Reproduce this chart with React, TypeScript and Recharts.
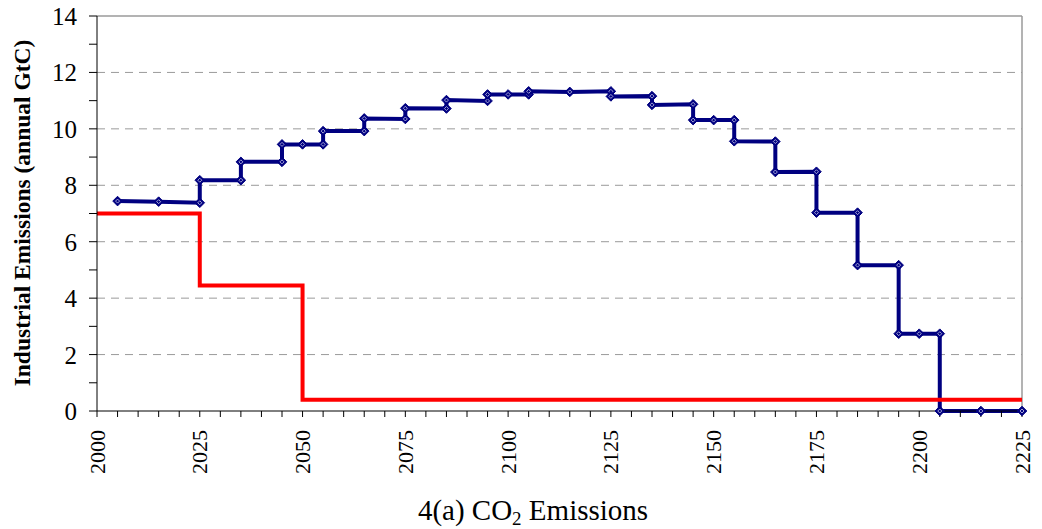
import React from "react";
import { LineChart, Line, XAxis, YAxis, ReferenceLine } from "recharts";

// industrial emissions, annual GtC — pairs at the same year draw the vertical steps
const blueYears = [
  2005, 2015, 2025, 2025, 2035, 2035, 2045, 2045, 2050, 2055, 2055, 2065, 2065,
  2075, 2075, 2085, 2085, 2095, 2095, 2100, 2105, 2105, 2115, 2125, 2125, 2135,
  2135, 2145, 2145, 2150, 2155, 2155, 2165, 2165, 2175, 2175, 2185, 2185, 2195,
  2195, 2200, 2205, 2205, 2215, 2225,
];
const blueValues = [
  7.44, 7.42, 7.38, 8.18, 8.18, 8.83, 8.83, 9.45, 9.45, 9.45, 9.92, 9.92, 10.37,
  10.35, 10.73, 10.72, 11.02, 10.99, 11.22, 11.22, 11.22, 11.33, 11.31, 11.33,
  11.15, 11.16, 10.85, 10.87, 10.31, 10.31, 10.31, 9.56, 9.55, 8.47, 8.48, 7.03,
  7.03, 5.17, 5.17, 2.74, 2.74, 2.74, 0, 0, 0,
];

const redYears = [2000, 2025, 2050, 2225];
const redValues = [7.0, 4.45, 0.4, 0.4];

const xTicks = [
  2000, 2005, 2010, 2015, 2020, 2025, 2030, 2035, 2040, 2045, 2050, 2055, 2060,
  2065, 2070, 2075, 2080, 2085, 2090, 2095, 2100, 2105, 2110, 2115, 2120, 2125,
  2130, 2135, 2140, 2145, 2150, 2155, 2160, 2165, 2170, 2175, 2180, 2185, 2190,
  2195, 2200, 2205, 2210, 2215, 2220, 2225,
];
const yTicks = [0, 1, 2, 3, 4, 5, 6, 7, 8, 9, 10, 11, 12, 13, 14];
const gridValues = [2, 4, 6, 8, 10, 12];

const blueData = blueYears.map((year, i) => ({ year, value: blueValues[i] }));
const redData = redYears.map((year, i) => ({ year, value: redValues[i] }));

const FONT = '"Liberation Serif", "Times New Roman", serif';

function Diamond(props: any) {
  const { cx, cy, index } = props;
  if (cx == null || cy == null) return null;
  const r = 4.8;
  const s = 2;
  return (
    <g key={`d-${index}`}>
      <path
        d={`M${cx},${cy - r}L${cx + r},${cy}L${cx},${cy + r}L${cx - r},${cy}Z`}
        fill="#000080"
        stroke="#000080"
        strokeWidth={1}
      />
      <path
        d={`M${cx},${cy - s}L${cx + s},${cy}L${cx},${cy + s}L${cx - s},${cy}Z`}
        fill="none"
        stroke="#c8c8ec"
        strokeWidth={0.8}
      />
    </g>
  );
}

function YearTick(props: any) {
  const { x, y, payload } = props;
  if (payload.value % 25 !== 0) return null;
  return (
    <text
      x={x}
      y={y + 11}
      transform={`rotate(-90 ${x} ${y + 11})`}
      textAnchor="end"
      dominantBaseline="central"
      fontFamily={FONT}
      fontSize={22}
      fill="#000"
    >
      {payload.value}
    </text>
  );
}

function ValueTick(props: any) {
  const { x, y, payload } = props;
  if (payload.value % 2 !== 0) return null;
  return (
    <text x={x - 10} y={y} dy="0.36em" textAnchor="end" fontFamily={FONT} fontSize={25} fill="#000">
      {payload.value}
    </text>
  );
}

export default function App() {
  return (
    <div style={{ position: "absolute", left: 0, top: 0, width: 1042, height: 529, background: "#fff" }}>
      <LineChart
        width={1042}
        height={529}
        data={blueData}
        margin={{ top: 16, right: 20, bottom: 0, left: 0 }}
      >
        <XAxis
          dataKey="year"
          type="number"
          domain={[2000, 2225]}
          ticks={xTicks}
          interval={0}
          height={118}
          tickSize={6}
          stroke="#000"
          tick={<YearTick />}
          label={{
            content: () => (
              <text x={533} y={520} textAnchor="middle" fontFamily={FONT} fontSize={29} fill="#000">
                4(a) CO
                <tspan dy={5} fontSize={19}>2</tspan>
                <tspan dy={-5}> Emissions</tspan>
              </text>
            ),
          }}
        />
        <YAxis
          dataKey="value"
          type="number"
          domain={[0, 14]}
          ticks={yTicks}
          interval={0}
          width={97}
          tickSize={8}
          stroke="#000"
          tick={<ValueTick />}
          label={{
            content: () => (
              <text
                x={22}
                y={213}
                transform="rotate(-90 22 213)"
                textAnchor="middle"
                dominantBaseline="central"
                fontFamily={FONT}
                fontWeight="bold"
                fontSize={23.5}
                fill="#000"
              >
                Industrial Emissions (annual GtC)
              </text>
            ),
          }}
        />
        {gridValues.map((v) => (
          <ReferenceLine key={v} y={v} stroke="#9a9a9a" strokeDasharray="8 6" strokeWidth={1} />
        ))}
        <ReferenceLine y={14} stroke="#9a9a9a" strokeWidth={1.5} />
        <ReferenceLine x={2225} stroke="#9a9a9a" strokeWidth={1.5} />
        <Line
          dataKey="value"
          type="linear"
          stroke="#000080"
          strokeWidth={4}
          dot={<Diamond />}
          activeDot={false}
          isAnimationActive={false}
        />
        <Line
          data={redData}
          dataKey="value"
          type="stepAfter"
          stroke="#ff0000"
          strokeWidth={4}
          dot={false}
          activeDot={false}
          isAnimationActive={false}
        />
      </LineChart>
    </div>
  );
}
